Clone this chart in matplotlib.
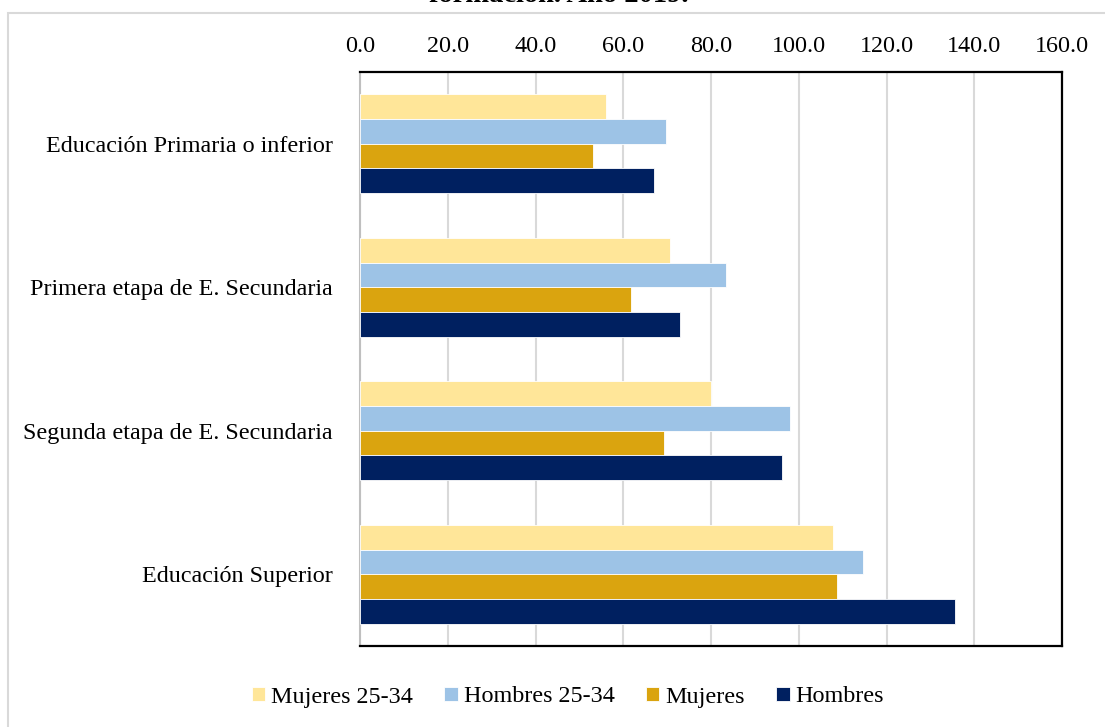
import numpy as np
import matplotlib.pyplot as plt
from matplotlib.patches import Rectangle

plt.rcParams['font.family'] = ['Liberation Serif', 'DejaVu Serif']

categorias = ['Educación Primaria o inferior', 'Primera etapa de E. Secundaria',
              'Segunda etapa de E. Secundaria', 'Educación Superior']
series = ['Mujeres 25-34', 'Hombres 25-34', 'Mujeres', 'Hombres']
mujeres_25_34 = [56.0, 70.6, 79.9, 107.8]
hombres_25_34 = [69.7, 83.5, 97.9, 114.6]
mujeres = [53.2, 61.8, 69.2, 108.8]
hombres = [67.1, 73.0, 96.2, 135.5]
colores = ['#FFE699', '#9DC3E6', '#DAA40F', '#002060']
ticks_x = [0, 20, 40, 60, 80, 100, 120, 140, 160]

fig = plt.figure(figsize=(11.05, 7.27), dpi=100)
ax = fig.add_axes([360/1105, 1-646/727, 702/1105, 574/727])

# marco gris del area del grafico
fig.patches.append(Rectangle((8/1105, -0.01), 1.1, 1-13/727+0.01, transform=fig.transFigure,
                             fill=False, edgecolor='#D9D9D9', linewidth=1.5))
fig.text(0.506, 1-2/727, 'formación. Año 2019.', ha='center', va='baseline',
         fontsize=20.5, fontweight='bold')

y = np.arange(len(categorias))
h = 0.172
datos = [mujeres_25_34, hombres_25_34, mujeres, hombres]
for i, (vals, nombre, c) in enumerate(zip(datos, series, colores)):
    ax.barh(y + (i - 1.5) * h, vals, height=h, color=c, label=nombre,
            edgecolor='white', linewidth=0.6, zorder=3)

ax.set_xlim(0, 160)
ax.set_ylim(3.5, -0.5)
ax.set_xticks(ticks_x)
ax.set_xticklabels([f'{t:.1f}' for t in ticks_x])
ax.xaxis.tick_top()
ax.set_yticks(y)
ax.set_yticklabels(categorias)
ax.tick_params(axis='both', length=0, labelsize=17.4)
ax.tick_params(axis='x', pad=11)
ax.tick_params(axis='y', pad=19.5)
ax.grid(axis='x', color='#D9D9D9', linewidth=1.5, zorder=0)

for s in ['top', 'right', 'bottom']:
    ax.spines[s].set_color('black')
    ax.spines[s].set_linewidth(1.6)
ax.spines['left'].set_color('#BFBFBF')
ax.spines['left'].set_linewidth(1.5)

fig.legend(loc='center', bbox_to_anchor=(0.514, 1-697/727), ncol=4, frameon=False,
           fontsize=17.4, handlelength=0.55, handleheight=0.55, handletextpad=0.25,
           columnspacing=1.3)

fig.savefig('out.png', dpi=100)
